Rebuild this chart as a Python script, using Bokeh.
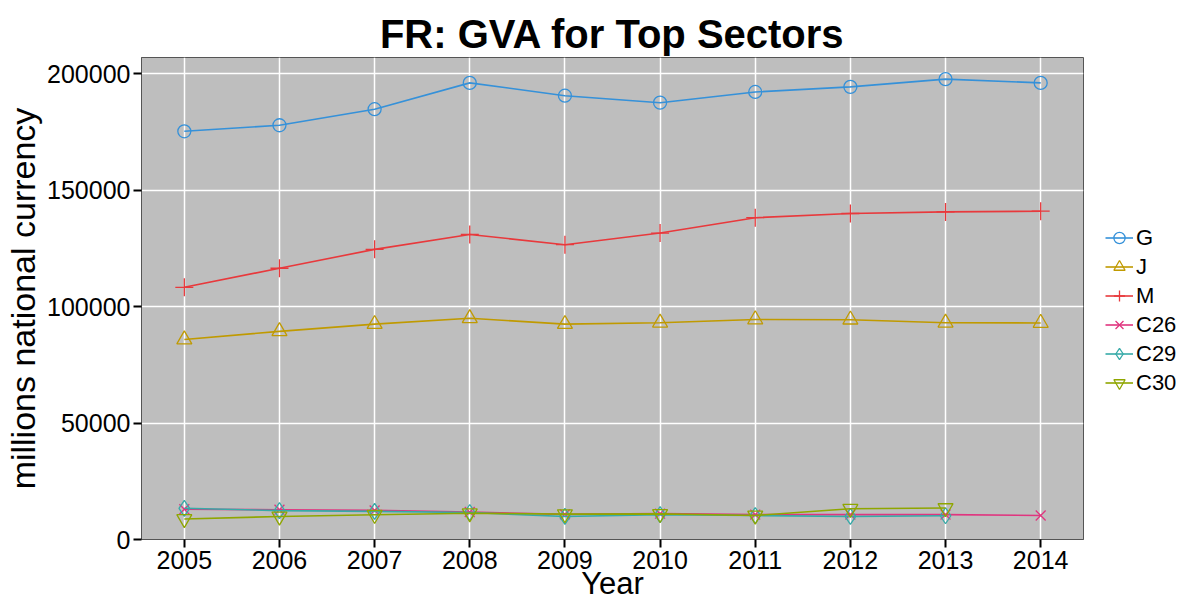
from bokeh.plotting import figure
from bokeh.models import Legend, LegendItem, FixedTicker, BasicTickFormatter, Range1d
from bokeh.embed import file_html
from bokeh.resources import INLINE

# ---- data ----
years = [2005, 2006, 2007, 2008, 2009, 2010, 2011, 2012, 2013, 2014]
G = [175300, 177900, 184800, 196100, 190600, 187600, 192200, 194400, 197700, 196100]
J = [85900, 89400, 92500, 95000, 92500, 93100, 94500, 94400, 93100, 93000]
M = [108300, 116500, 124600, 131000, 126600, 131600, 138200, 140000, 140700, 141000]
C26 = [13000, 12800, 12500, 11800, 10800, 11100, 10700, 10700, 10700, 10300]
years_c = [2005, 2006, 2007, 2008, 2009, 2010, 2011, 2012, 2013]
C29 = [13400, 12400, 12100, 11600, 9900, 10700, 10300, 9900, 10200]
C30 = [8800, 9900, 10600, 11300, 10900, 11000, 10300, 13200, 13500]

y_ticks = [0, 50000, 100000, 150000, 200000]

series = [
    ("G", years, G, "#3591D9", "circle", 13),
    ("J", years, J, "#C09A00", "triangle", 15),
    ("M", years, M, "#E8393C", "cross", 18),
    ("C26", years, C26, "#E0357F", "x", 14),
    ("C29", years_c, C29, "#36AAA8", "diamond", 16),
    ("C30", years_c, C30, "#8FA600", "inverted_triangle", 15),
]

FONT = "Liberation Sans"

p = figure(frame_width=942, frame_height=482, output_backend="svg", toolbar_location=None,
           x_range=Range1d(2004.55, 2014.45), y_range=Range1d(0, 207000),
           title="FR: GVA for Top Sectors")
p.min_border_left = 141
p.min_border_top = 57
p.min_border_bottom = 54
p.min_border_right = 0

p.background_fill_color = "#BEBEBE"
p.border_fill_color = "white"
p.outline_line_color = "#555555"
p.outline_line_width = 1

p.title.text_font = FONT
p.title.text_font_size = "40px"
p.title.text_font_style = "bold"
p.title.align = "center"
p.title.standoff = 3
p.title.text_color = "black"

p.xaxis.ticker = FixedTicker(ticks=years)
p.yaxis.ticker = FixedTicker(ticks=y_ticks)
p.yaxis.formatter = BasicTickFormatter(use_scientific=False)
p.xaxis.axis_label = "Year"
p.yaxis.axis_label = "millions national currency"
for ax in (p.xaxis, p.yaxis):
    ax.axis_label_text_font = FONT
    ax.axis_label_text_font_style = "normal"
    ax.axis_label_text_color = "black"
    ax.major_label_text_font = FONT
    ax.major_label_text_font_size = "25px"
    ax.major_label_text_color = "black"
    ax.major_tick_out = 8
    ax.major_tick_in = 0
    ax.major_tick_line_color = "black"
    ax.major_tick_line_width = 2
    ax.minor_tick_line_color = None
    ax.axis_line_color = "#555555"
    ax.major_label_standoff = 3
p.xaxis.axis_label_text_font_size = "31px"
p.xaxis.axis_label_standoff = -6
p.yaxis.axis_label_text_font_size = "34px"
p.yaxis.axis_label_standoff = 2

p.grid.grid_line_color = "white"
p.grid.grid_line_width = 1.5
p.grid.minor_grid_line_color = None

items = []
for name, xs, ys, color, marker, size in series:
    r1 = p.line(xs, ys, line_color=color, line_width=1.6)
    r2 = p.scatter(xs, ys, marker=marker, size=size, line_color=color,
                   fill_color=None, line_width=1.3)
    items.append(LegendItem(label=name, renderers=[r1, r2]))

legend = Legend(items=items, location=(22, 142))
legend.label_text_font = FONT
legend.label_text_font_size = "22px"
legend.label_text_color = "black"
legend.glyph_width = 28
legend.glyph_height = 29
legend.label_height = 29
legend.spacing = 0
legend.padding = 4
legend.margin = 0
legend.label_standoff = 3
legend.border_line_color = None
legend.background_fill_alpha = 0
p.add_layout(legend, "right")

open("out.html", "w").write(file_html(p, INLINE))
